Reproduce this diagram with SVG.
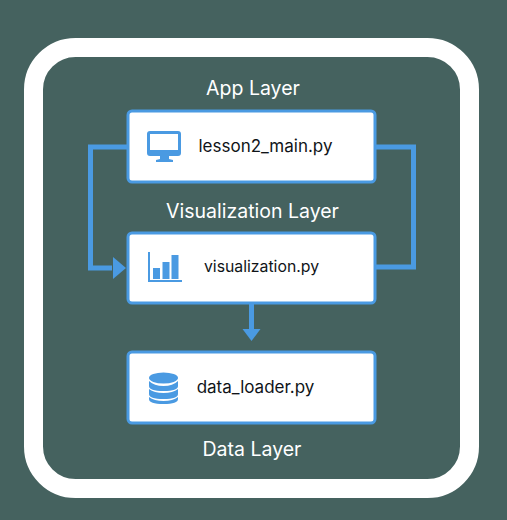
<svg xmlns="http://www.w3.org/2000/svg" width="507" height="520" viewBox="0 0 507 520">
<style>
.node{fill:#fff;stroke:#4a9ae2;stroke-width:3}
.lbl{font-family:"Inter","Liberation Sans",sans-serif;font-size:19.5px;fill:#fff;text-anchor:middle}
.file{font-family:"Inter","Liberation Sans",sans-serif;font-size:17px;fill:#101418;text-anchor:middle}
.conn{fill:none;stroke:#4a9ae2;stroke-width:5}
.ico{fill:#4a9ae2}
</style>
<rect width="507" height="520" fill="#45625f"/>
<rect x="33.500" y="47.500" width="436" height="441" rx="42" fill="none" stroke="#fff" stroke-width="19"/>
<g id="connectors">
<path class="conn" d="M127 147H90.500V268H112"/>
<path class="ico" d="M113 257L126 268L113 279Z"/>
<path class="conn" d="M376 147H413.500V267H376"/>
<path class="conn" d="M251.500 304V330"/>
<path class="ico" d="M242.500 329H260.500L251.500 341Z"/>
</g>
<g id="app-layer"><text class="lbl" x="253" y="95">App Layer</text></g>
<g id="visualization-layer"><text class="lbl" x="252.500" y="218">Visualization Layer</text></g>
<g id="data-layer"><text class="lbl" x="252" y="456">Data Layer</text></g>
<g id="lesson2-main">
<rect class="node" x="128" y="111" width="247" height="71" rx="4"/>
<path class="ico" fill-rule="evenodd" d="M150 131H178Q181 131 181 134V153Q181 156 178 156H169V159L173 160V162H156V160L160 159V156H150Q147 156 147 153V134Q147 131 150 131ZM150 134V150H178V134Z"/>
<text class="file" x="265.500" y="152">lesson2_main.py</text>
</g>
<g id="visualization">
<rect class="node" x="128" y="233" width="247" height="70" rx="4"/>
<path class="ico" d="M148 252H150V280H182V282H148Z"/>
<rect class="ico" x="153" y="268" width="7" height="11"/>
<rect class="ico" x="162.500" y="262" width="7" height="17"/>
<rect class="ico" x="171.500" y="255" width="7" height="24"/>
<text class="file" x="261.500" y="272" style="font-size:15.800px">visualization.py</text>
</g>
<g id="data-loader">
<rect class="node" x="128" y="352" width="247" height="71" rx="4"/>
<ellipse class="ico" cx="163.500" cy="378" rx="14.500" ry="5.500"/>
<path class="ico" d="M149 381Q154 386 163.500 386T178 381V386Q178 391 163.500 391T149 386Z"/>
<path class="ico" d="M149 389Q154 393 163.500 393T178 389V394Q178 399 163.500 399T149 394Z"/>
<path class="ico" d="M149 397Q154 401 163.500 401T178 397V399Q178 404 163.500 404T149 399Z"/>
<text class="file" x="255.500" y="393">data_loader.py</text>
</g>
</svg>
